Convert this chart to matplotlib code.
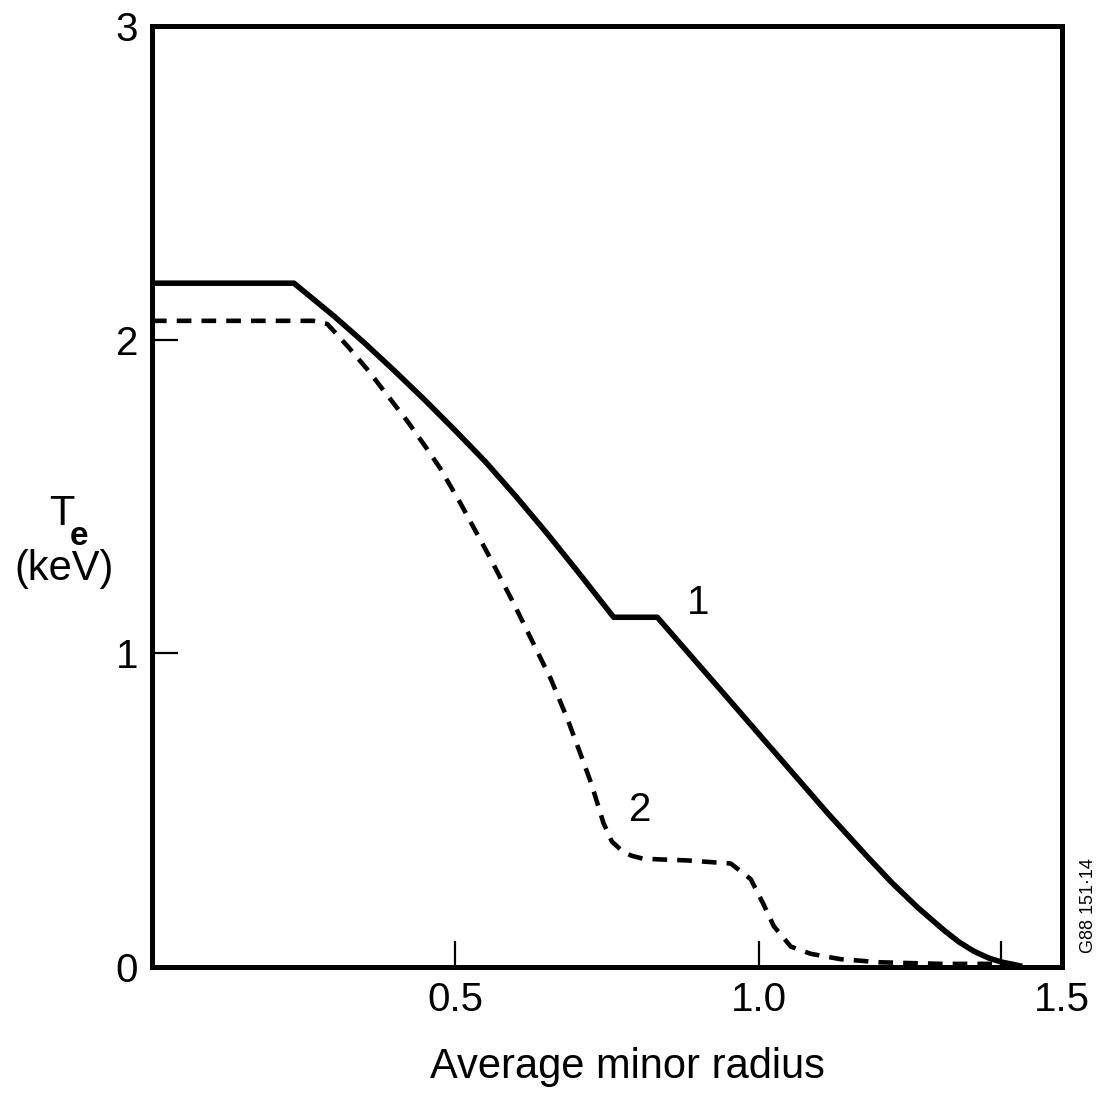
import numpy as np
import matplotlib.pyplot as plt

plt.rcParams['font.family'] = ['Liberation Sans', 'DejaVu Sans']

# curve 1 (solid)
r1 = [0.0, 0.234, 0.30, 0.35, 0.40, 0.45, 0.50, 0.55, 0.60, 0.65, 0.70, 0.761,
      0.833, 0.95, 1.069, 1.114, 1.18, 1.22, 1.262, 1.305, 1.33, 1.355, 1.38,
      1.40, 1.43]
te1 = [2.18, 2.18, 2.075, 1.99, 1.90, 1.807, 1.71, 1.61, 1.50, 1.385, 1.265, 1.115,
       1.115, 0.855, 0.59, 0.49, 0.35, 0.268, 0.19, 0.118, 0.08, 0.05, 0.028,
       0.016, 0.004]

# curve 2 (dashed)
r2 = [0.0, 0.266, 0.289, 0.322, 0.355, 0.381, 0.421, 0.454, 0.475, 0.508, 0.553,
      0.596, 0.629, 0.657, 0.685, 0.711, 0.725, 0.744, 0.758, 0.775, 0.79, 0.81,
      0.88, 0.954, 0.987, 1.008, 1.025, 1.053, 1.086, 1.135, 1.20, 1.30, 1.40]
te2 = [2.06, 2.06, 2.05, 1.98, 1.905, 1.84, 1.74, 1.65, 1.59, 1.48, 1.32,
       1.16, 1.03, 0.92, 0.79, 0.655, 0.58, 0.46, 0.40, 0.37, 0.355, 0.345,
       0.34, 0.33, 0.28, 0.20, 0.13, 0.065, 0.042, 0.025, 0.015, 0.01, 0.01]

fig = plt.figure(figsize=(11.03, 10.96), dpi=100)
ax = fig.add_axes([0.1378, 0.1177, 0.8250, 0.8586])

ax.plot(r1, te1, color='black', lw=4.0, solid_joinstyle='round')
ax.plot(r2, te2, color='black', lw=3.3, dashes=(3.2, 2.2), dash_joinstyle='round')

ax.text(0.90, 1.16, '1', fontsize=29, ha='center', va='center')
ax.text(0.805, 0.50, '2', fontsize=29, ha='center', va='center')

ax.set_xlim(0, 1.5)
ax.set_ylim(0, 3)
ax.set_xticks([0.5, 1.0, 1.5])
ax.set_xticklabels(['0.5', '1.0', '1.5'])
ax.set_xticks([1.4], minor=True)
ax.set_yticks([0, 1, 2, 3])
ax.tick_params(axis='both', which='both', direction='in', length=19, width=1.6,
               labelsize=29, pad=10)
ax.tick_params(axis='x', which='minor', length=19, width=1.6)
for sp in ax.spines.values():
    sp.set_linewidth(3.6)

ax.set_xlabel('Average minor radius', fontsize=30, labelpad=22)
ax.xaxis.set_label_coords(0.523, -0.085)

# y label: T with bold subscript e, then (keV)
fig.text(0.056, 0.521, 'T', fontsize=30, ha='center', va='baseline')
fig.text(0.072, 0.503, 'e', fontsize=24, fontweight='bold', ha='center', va='baseline')
fig.text(0.058, 0.481, '(keV)', fontsize=30, ha='center', va='center')
fig.text(0.987, 0.174, 'G88 151·14', fontsize=13, rotation=90, ha='center', va='center')

fig.savefig('out.png', dpi=100)
